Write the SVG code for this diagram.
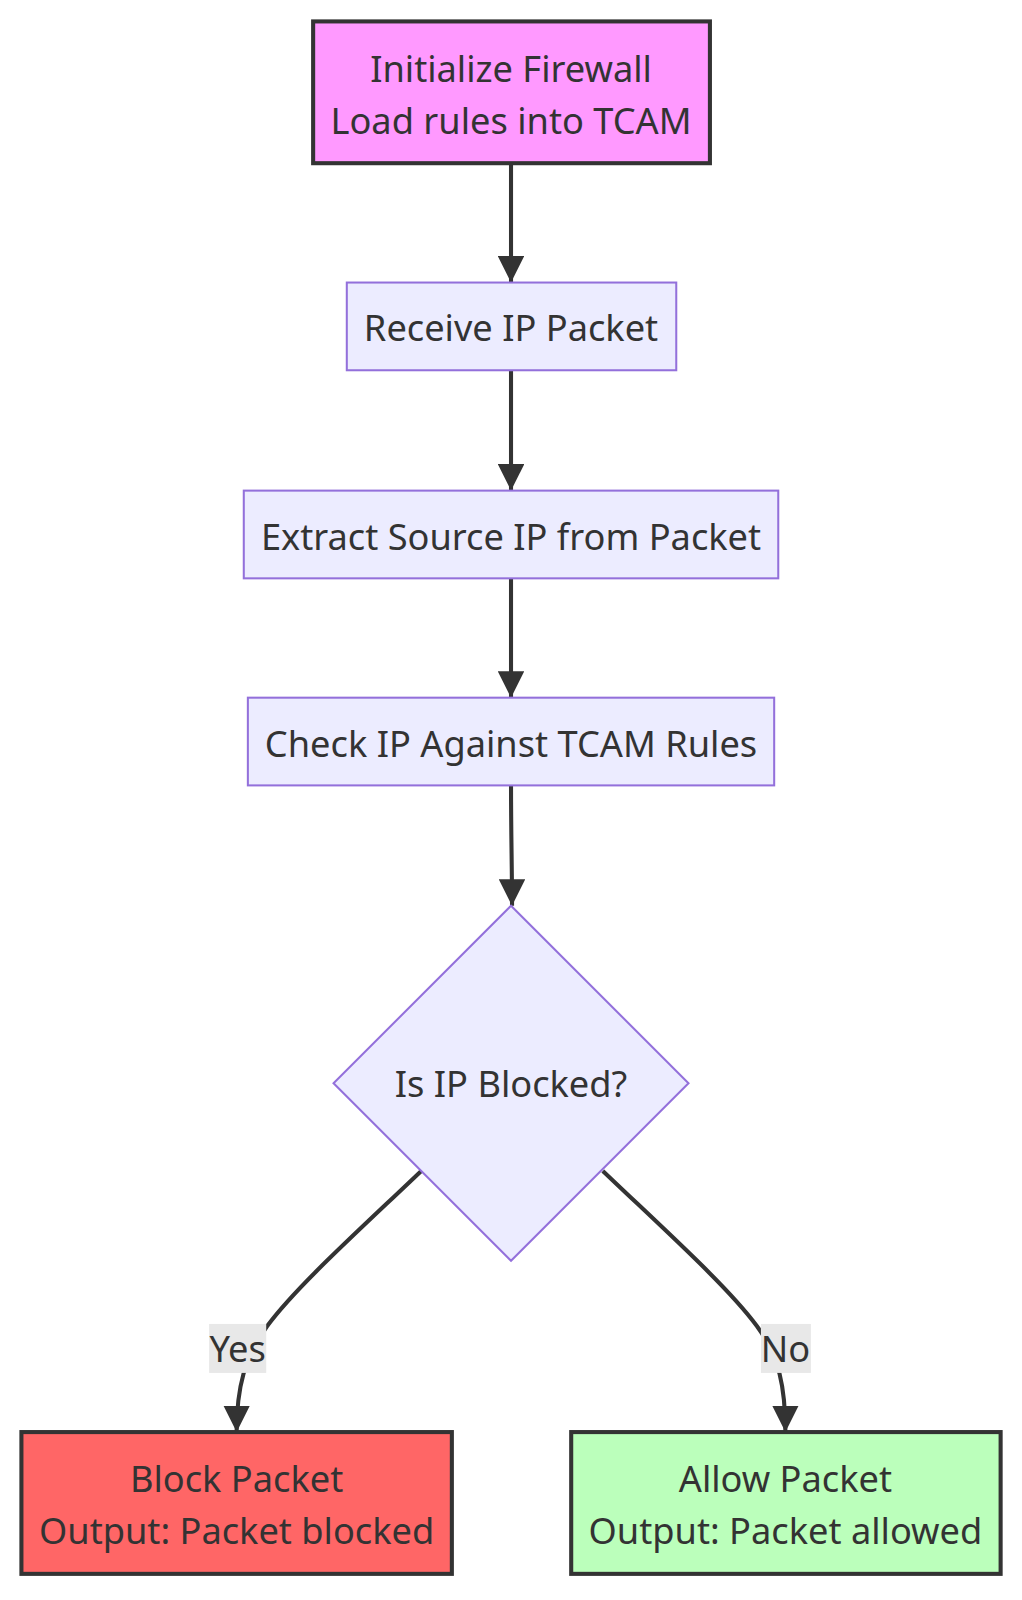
<svg xmlns="http://www.w3.org/2000/svg" width="1022" height="1600" viewBox="0 0 1022 1600">
<style>
text{font-family:"Noto Sans","Open Sans","DejaVu Sans",sans-serif;font-size:35.5px;fill:#333;text-anchor:middle;dominant-baseline:central}
.def{fill:#ececff;stroke:#9370db;stroke-width:2}
.strong{stroke:#333;stroke-width:4}
.edge{fill:none;stroke:#333;stroke-width:4}
.lbl{fill:#e8e8e8}
</style>
<defs>
<marker id="arr" viewBox="0 0 10 10" refX="10" refY="5" markerWidth="6.5" markerHeight="6.5" markerUnits="strokeWidth" orient="auto">
<path d="M0,0 L10,5 L0,10 z" fill="#333"/>
</marker>
</defs>
<g transform="scale(1.02)">
<g id="edges">
<path class="edge" d="M501,160 L501,277" marker-end="url(#arr)"/>
<path class="edge" d="M501,363 L501,481" marker-end="url(#arr)"/>
<path class="edge" d="M501,567 L501,684" marker-end="url(#arr)"/>
<path class="edge" d="M501,770 C501,820 502,850 502,888" marker-end="url(#arr)"/>
<path class="edge" d="M413,1148 C350,1208 290,1262 262,1300 C240,1330 232,1360 232,1404" marker-end="url(#arr)"/>
<path class="edge" d="M591,1148 C654,1208 714,1262 742,1300 C764,1330 770,1360 770,1404" marker-end="url(#arr)"/>
</g>
<g id="label-yes">
<rect class="lbl" x="205" y="1298" width="56" height="48"/>
<text x="233" y="1322">Yes</text>
</g>
<g id="label-no">
<rect class="lbl" x="746" y="1298" width="49" height="48"/>
<text x="770" y="1322">No</text>
</g>
<g id="n1">
<rect class="strong" x="307" y="21" width="389" height="139" fill="#ff99ff"/>
<text x="501" y="67">Initialize Firewall</text>
<text x="501" y="118">Load rules into TCAM</text>
</g>
<g id="n2">
<rect class="def" x="340" y="277" width="323" height="86"/>
<text x="501" y="321">Receive IP Packet</text>
</g>
<g id="n3">
<rect class="def" x="239" y="481" width="524" height="86"/>
<text x="501" y="525">Extract Source IP from Packet</text>
</g>
<g id="n4">
<rect class="def" x="243" y="684" width="516" height="86"/>
<text x="501" y="728">Check IP Against TCAM Rules</text>
</g>
<g id="n5">
<polygon class="def" points="501,888 675,1062 501,1236 327,1062"/>
<text x="501" y="1062">Is IP Blocked?</text>
</g>
<g id="n6">
<rect class="strong" x="21" y="1404" width="422" height="139" fill="#ff6666"/>
<text x="232" y="1449">Block Packet</text>
<text x="232" y="1500">Output: Packet blocked</text>
</g>
<g id="n7">
<rect class="strong" x="560" y="1404" width="421" height="139" fill="#bbffbb"/>
<text x="770" y="1449">Allow Packet</text>
<text x="770" y="1500">Output: Packet allowed</text>
</g>
</g>
</svg>
